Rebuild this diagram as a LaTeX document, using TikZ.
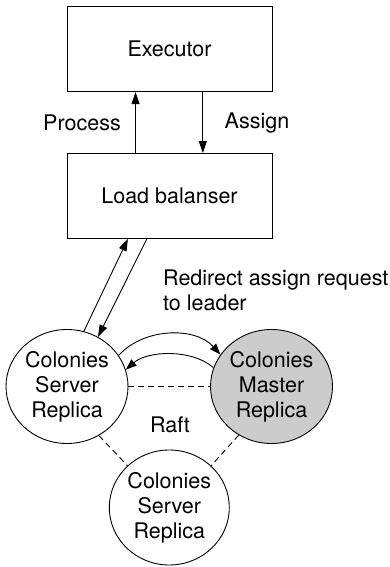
\documentclass[tikz,border=0pt]{standalone}
\usepackage{fontspec}
\setmainfont{TeX Gyre Heros}
\usetikzlibrary{arrows.meta,shapes.geometric,calc}
\begin{document}
\begin{tikzpicture}[x=1pt,y=1pt,
  every node/.style={font=\fontsize{21.5}{25}\selectfont},
  box/.style={draw,line width=0.9pt,minimum width=205pt,minimum height=85pt,inner sep=0pt},
  replica/.style={draw,ellipse,line width=0.9pt,minimum width=122pt,minimum height=114pt,inner sep=0pt,align=center},
  arr/.style={line width=0.9pt,-{Triangle[length=12pt,width=8pt]}},
  carr/.style={line width=0.9pt,-{Triangle[length=11pt,width=8pt]}},
  raftline/.style={line width=0.9pt,dash pattern=on 6pt off 4pt},
  lbl/.style={inner sep=0pt}]
\useasboundingbox (0,0) rectangle (390,567);
\node[box] (Exe) at (169.5,517.8) {Executor};
\node[box] (LB) at (169.5,371) {Load balanser};
\node[replica] (L) at (67,180.5) {Colonies\\Server\\Replica};
\node[replica,fill={rgb,255:red,204;green,204;blue,204}] (M) at (271.5,180.5) {Colonies\\Master\\Replica};
\node[replica,minimum width=120pt,minimum height=115pt] (B) at (169.3,59.5) {Colonies\\Server\\Replica};
\node[lbl] (proc) at (82,444) {Process};
\node[lbl] (asg) at (257,444) {Assign};
\node[lbl] (raft) at (170,142) {Raft};
\node[lbl,anchor=west,align=left] (redir) at (163,277) {Redirect assign request\\to leader};
% LB <-> Executor
\coordinate (pA) at ($(LB.north west)!0.335!(LB.north east)$);
\coordinate (aA) at ($(Exe.south west)!0.662!(Exe.south east)$);
\draw[arr] (pA) -- (pA |- Exe.south);
\draw[arr] (aA) -- (aA |- LB.north);
% L <-> LB
\coordinate (u1) at ($(LB.south west)!0.298!(LB.south east)$);
\coordinate (u2) at ($(LB.south west)!0.39!(LB.south east)$);
\draw[arr] (L.73) -- (u1);
\draw[arr] (u2) -- (L.58);
% L <-> M curved
\draw[carr] (L.31) .. controls +(25,28) and +(-25,28) .. (M.148);
\draw[carr] (M.162) .. controls +(-22,19) and +(22,19) .. (L.16.5);
% Raft
\draw[raftline] (L.east) -- (M.west);
\draw[raftline] (L.-57) -- (B.135);
\draw[raftline] (M.-124) -- (B.45);
\end{tikzpicture}
\end{document}
